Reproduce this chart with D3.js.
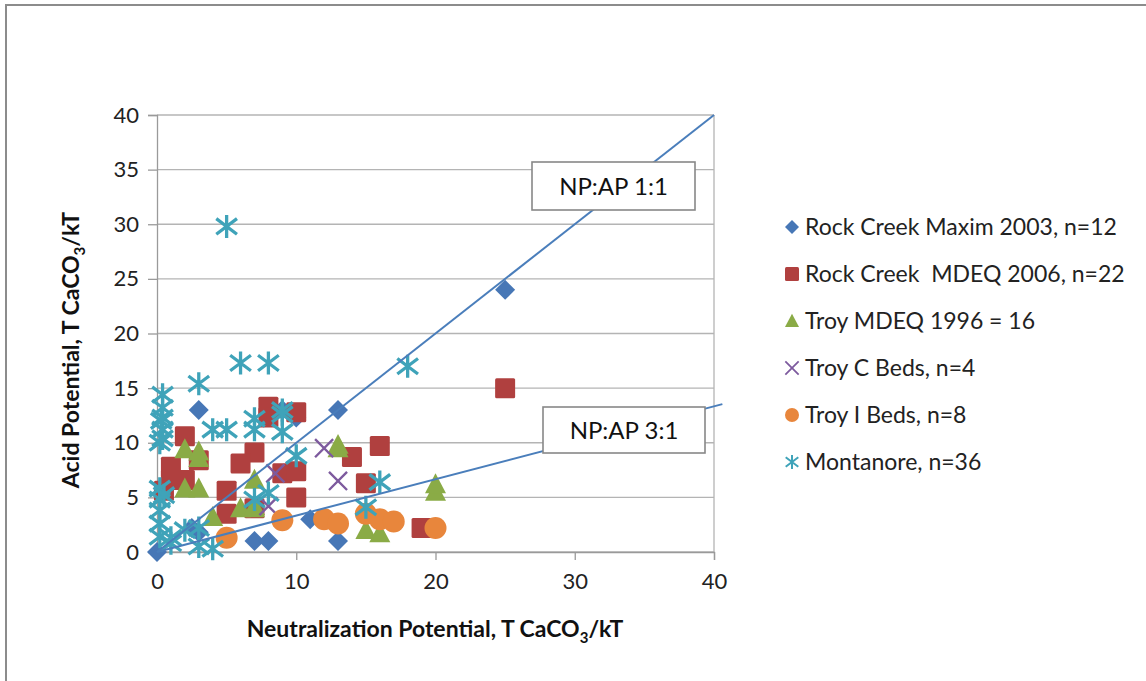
<!DOCTYPE html>
<html>
<head>
<meta charset="utf-8">
<script src="https://cdn.jsdelivr.net/npm/d3@7"></script>
<style>
  html, body { margin: 0; padding: 0; background: #fff; }
  svg { display: block; font-family: Lato, "Open Sans", sans-serif; }
</style>
</head>
<body>
<svg id="chart" width="1146" height="681"></svg>
<script>
// Series data: [neutralization potential, acid potential]
const rockCreekMaxim = [[25,24],[13,13],[3,13],[10,12.3],[9,13],[7,1],[8,1],[11,3],[13,1],[3,1.8],[0,0],[2.5,2.2]];
const rockCreekMdeq = [[8,13.3],[8,12.3],[10,12.8],[2,10.6],[1,7.8],[3,8.4],[2,6.6],[0.5,5.6],[7,9.1],[6,8.1],
  [5,5.6],[5,3.5],[9,7.2],[10,7.4],[10,5],[14,8.7],[16,9.7],[15,6.3],[19,2.2],[25,15],[1,6.6],[7,4]];
const troyMdeq = [[2,9.4],[3,8.6],[2,5.8],[3,5.8],[4,3.2],[6,4],[7,6.6],[7,4],[13,9.5],[15,2],[16,1.7],
  [20,5.5],[20,6.2],[7,4.2],[3,9.2],[13,9.8]];
const troyCBeds = [[13,6.5],[12,9.5],[8.5,7.2],[8,4.2]];
const troyIBeds = [[5,1.3],[9,2.9],[12,3],[13,2.6],[15,3.5],[16,3],[17,2.8],[20,2.2]];
const montanore = [[5,29.8],[6,17.3],[8,17.3],[18,17],[3,15.4],[0.4,14.4],[0.4,13.2],[0.4,12.3],[0.4,11.2],
  [0.4,10.4],[0.2,10],[4,11.2],[5,11.2],[7,12.2],[7,11.2],[9,12.6],[9,11],[10,8.8],[16,6.4],[15,4.1],
  [7,4.8],[8,5.4],[0.2,5.8],[0.2,4.8],[0.2,3.8],[0.2,2.6],[0.2,1.4],[1,1.3],[2,2],[3,2.2],[3,0.5],
  [4,0.3],[1,0.8],[0.5,5.2],[9,13],[0.3,12]];

const seriesNames = ["Rock Creek Maxim 2003, n=12", "Rock Creek  MDEQ 2006, n=22", "Troy MDEQ 1996 = 16",
  "Troy C Beds, n=4", "Troy I Beds, n=8", "Montanore, n=36"];
const seriesColors = ["#4777b6", "#b0403f", "#8aab46", "#7d5a9e", "#e8863c", "#3fa3b9"];
const seriesMarkers = ["diamond", "square", "triangle", "cross", "circle", "asterisk"];
const seriesData = [rockCreekMaxim, rockCreekMdeq, troyMdeq, troyCBeds, troyIBeds, montanore];

const xTicks = [0, 10, 20, 30, 40];
const yTicks = [0, 5, 10, 15, 20, 25, 30, 35, 40];

// Reference ratio lines NP:AP
const ratioLines = [
  { label: "NP:AP 1:1", ratio: 1, xEnd: 40 },
  { label: "NP:AP 3:1", ratio: 3, xEnd: 40.6 }
];

const svg = d3.select("#chart");

// Outer chart frame
svg.append("rect").attr("x", 6).attr("y", 5).attr("width", 1160).attr("height", 700)
  .attr("fill", "#fff").attr("stroke", "#8c8c8c").attr("stroke-width", 2);

const x = d3.scaleLinear().domain([0, 40]).range([157, 714]);
const y = d3.scaleLinear().domain([0, 40]).range([552, 115]);

// Horizontal gridlines
svg.append("g").selectAll("line").data(yTicks).join("line")
  .attr("x1", x(0)).attr("x2", x(40)).attr("y1", d => y(d)).attr("y2", d => y(d))
  .attr("stroke", "#b4b4b4").attr("stroke-width", 1.3);
// Right edge of plot area
svg.append("line").attr("x1", x(40)).attr("x2", x(40)).attr("y1", y(0)).attr("y2", y(40))
  .attr("stroke", "#b4b4b4").attr("stroke-width", 1.3);

// Axes
const yAxis = svg.append("g").attr("transform", `translate(${x(0)},0)`)
  .call(d3.axisLeft(y).tickValues(yTicks).tickSize(9).tickPadding(9));
const xAxis = svg.append("g").attr("transform", `translate(0,${y(0)})`)
  .call(d3.axisBottom(x).tickValues(xTicks).tickSize(8).tickPadding(13));
[xAxis, yAxis].forEach(g => {
  g.select(".domain").attr("stroke", "#9a9a9a").attr("stroke-width", 1.3);
  g.selectAll(".tick line").attr("stroke", "#9a9a9a").attr("stroke-width", 1.3);
  g.selectAll(".tick text").attr("font-size", 22).attr("fill", "#222").attr("font-family", "Lato, sans-serif");
});

// Marker shapes
function drawMarker(sel, type, color, s) {
  const h = s / 2;
  if (type === "diamond") {
    sel.append("path").attr("d", `M0,${-h}L${h},0L0,${h}L${-h},0Z`).attr("fill", color);
  } else if (type === "square") {
    sel.append("rect").attr("x", -h).attr("y", -h).attr("width", s).attr("height", s)
      .attr("rx", 1.5).attr("fill", color);
  } else if (type === "triangle") {
    sel.append("path").attr("d", `M0,${-h * 1.05}L${h},${h * 0.85}L${-h},${h * 0.85}Z`).attr("fill", color);
  } else if (type === "circle") {
    sel.append("circle").attr("r", h).attr("fill", color);
  } else if (type === "cross") {
    const c = h * 0.95;
    sel.append("path").attr("d", `M${-c},${-c}L${c},${c}M${-c},${c}L${c},${-c}`)
      .attr("stroke", color).attr("stroke-width", s / 8).attr("fill", "none");
  } else if (type === "asterisk") {
    const c = h * 0.9;
    sel.append("path").attr("d", `M0,${-h}L0,${h}M${-c},${-c * 0.75}L${c},${c * 0.75}M${-c},${c * 0.75}L${c},${-c * 0.75}`)
      .attr("stroke", color).attr("stroke-width", s / 7).attr("fill", "none");
  }
}

const markerSizes = { diamond: 20, square: 20, triangle: 21, cross: 19, circle: 22, asterisk: 23 };

seriesData.forEach((data, i) => {
  const g = svg.append("g").attr("class", "series");
  data.forEach(d => {
    const m = g.append("g").attr("transform", `translate(${x(d[0])},${y(d[1])})`);
    drawMarker(m, seriesMarkers[i], seriesColors[i], markerSizes[seriesMarkers[i]]);
  });
});

// Ratio lines
const line = d3.line().x(d => x(d[0])).y(d => y(d[1]));
ratioLines.forEach(r => {
  svg.append("path").datum([[0, 0], [r.xEnd, r.xEnd / r.ratio]]).attr("d", line)
    .attr("fill", "none").attr("stroke", "#4a7ebb").attr("stroke-width", 2);
});

// Ratio labels
const labelBoxes = [
  { text: ratioLines[0].label, x0: 532, y0: 162, w: 163, h: 48 },
  { text: ratioLines[1].label, x0: 543, y0: 407, w: 162, h: 46 }
];
labelBoxes.forEach(b => {
  svg.append("rect").attr("x", b.x0).attr("y", b.y0).attr("width", b.w).attr("height", b.h)
    .attr("fill", "#fff").attr("stroke", "#888").attr("stroke-width", 1.6);
  svg.append("text").attr("x", b.x0 + b.w / 2).attr("y", b.y0 + b.h / 2 + 9)
    .attr("text-anchor", "middle").attr("font-size", 24).attr("fill", "#111")
    .text(b.text);
});

// Legend
const legend = svg.append("g");
seriesNames.forEach((name, i) => {
  const ly = 227 + i * 47;
  const m = legend.append("g").attr("transform", `translate(792,${ly})`);
  drawMarker(m, seriesMarkers[i], seriesColors[i], 14);
  legend.append("text").attr("x", 805).attr("y", ly + 8).attr("font-size", 23).attr("fill", "#222")
    .attr("xml:space", "preserve").text(name);
});

// Axis titles
const xt = svg.append("text").attr("x", 435).attr("y", 637).attr("text-anchor", "middle")
  .attr("font-size", 23).attr("font-weight", "bold").attr("fill", "#111");
xt.append("tspan").text("Neutralization Potential, T CaCO");
xt.append("tspan").attr("font-size", 15).attr("dy", 6).text("3");
xt.append("tspan").attr("dy", -6).text("/kT");

const yt = svg.append("text").attr("transform", "translate(79,350) rotate(-90)").attr("text-anchor", "middle")
  .attr("font-size", 23).attr("font-weight", "bold").attr("fill", "#111");
yt.append("tspan").text("Acid Potential, T CaCO");
yt.append("tspan").attr("font-size", 15).attr("dy", 6).text("3");
yt.append("tspan").attr("dy", -6).text("/kT");
</script>
</body>
</html>
